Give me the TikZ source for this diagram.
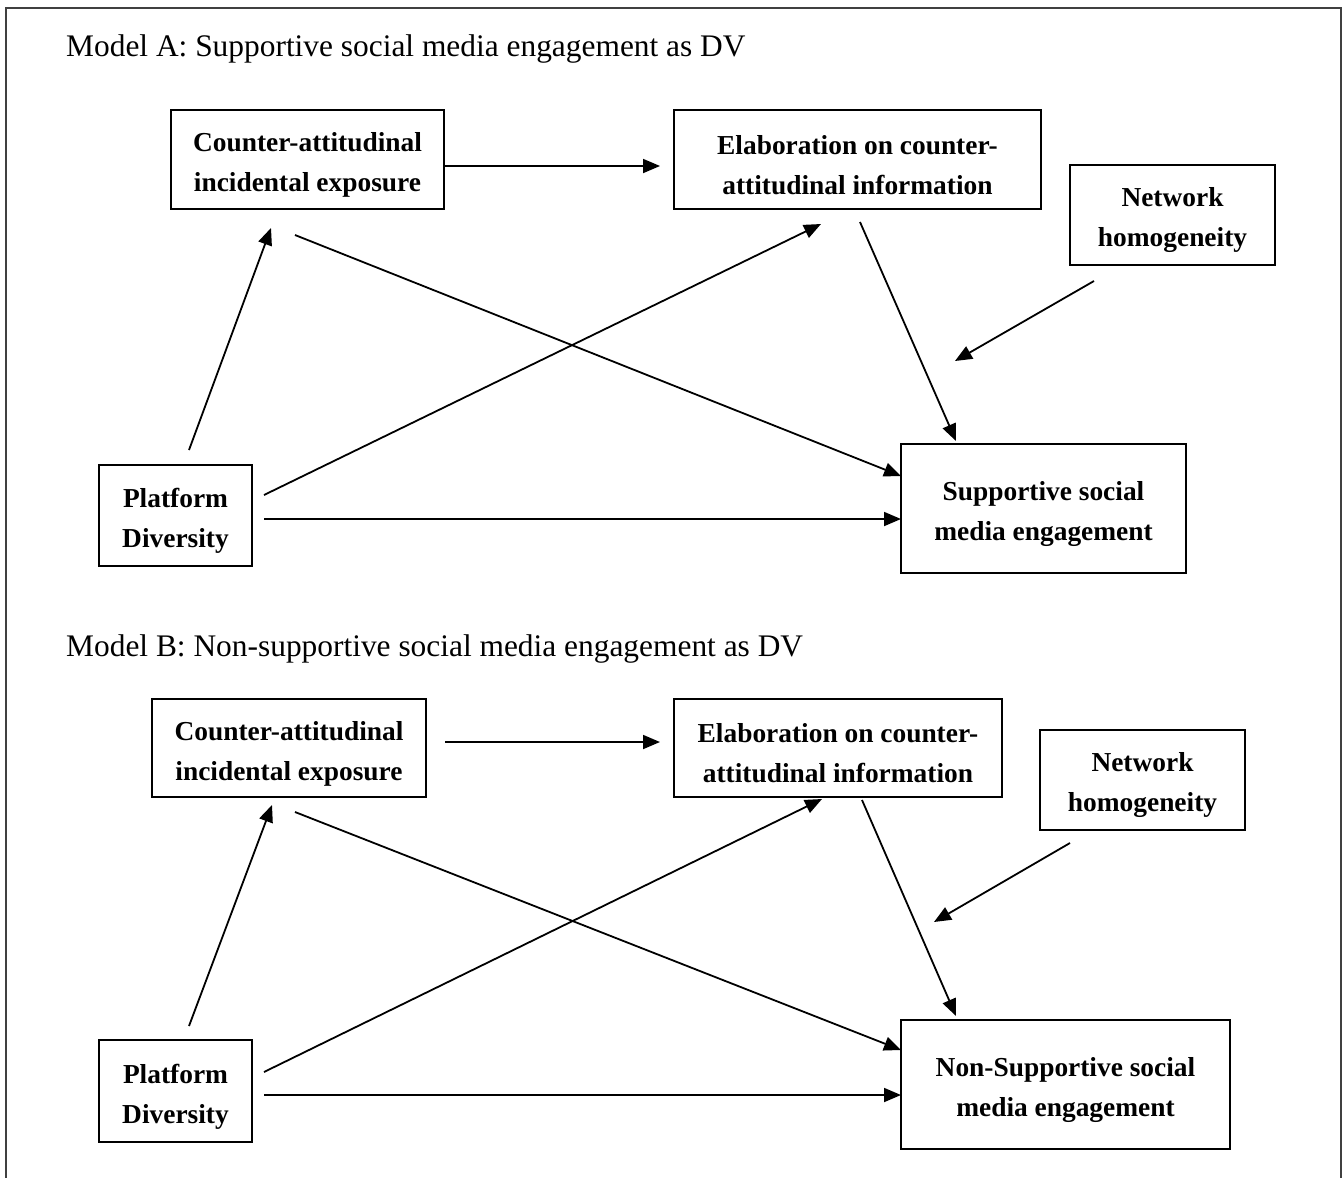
\documentclass[tikz,border=0pt]{standalone}
\usepackage{fontspec}
\setmainfont{Liberation Serif}
\usetikzlibrary{arrows.meta}
\newcommand\mytopstrut{\rule{0pt}{30pt}}
\begin{document}
\begin{tikzpicture}[x=1pt,y=-1pt,
  box/.style={draw=black,line width=2.8pt,inner sep=0pt,align=center,
    font=\bfseries\fontsize{27.4}{40}\selectfont},
  title/.style={anchor=base west,inner sep=0pt,font=\fontsize{31.4}{36}\selectfont},
  arr/.style={line width=1.8pt,-{Triangle[length=17pt,width=14pt]}},
  frame/.style={draw=black!75,line width=2pt}]
\useasboundingbox (0,0) rectangle (1344,1178);
\draw[frame] (6,1190) -- (6,8) -- (1341,8) -- (1341,1190);
% ---------- Model A ----------
\node[title] (tA) at (66,56) {Model A: Supportive social media engagement as DV};
\node[box,minimum width=273pt,minimum height=99pt] (caieA) at (307.5,159.5) {\mytopstrut Counter-attitudinal\\incidental exposure};
\node[box,minimum width=367pt,minimum height=99pt] (elabA) at (857.5,159.5) {\mytopstrut Elaboration on counter-\\attitudinal information};
\node[box,minimum width=205pt,minimum height=100pt] (netA) at (1172.5,215) {\mytopstrut Network\\homogeneity};
\node[box,minimum width=153pt,minimum height=101pt] (platA) at (175.5,515.5) {\mytopstrut Platform\\Diversity};
\node[box,minimum width=285pt,minimum height=129pt] (suppA) at (1043.5,508.5) {\mytopstrut Supportive social\\media engagement};
\coordinate (a1s) at (444,166);  \coordinate (a1e) at (660,166);
\coordinate (a2s) at (189,450);  \coordinate (a2e) at (271,228);
\coordinate (a3s) at (295,235);  \coordinate (a3e) at (901,476);
\coordinate (a4s) at (264,495);  \coordinate (a4e) at (821,224);
\coordinate (a5s) at (264,519);  \coordinate (a5e) at (901,519);
\coordinate (a6s) at (860,222);  \coordinate (a6e) at (956,441);
\coordinate (a7s) at (1094,281); \coordinate (a7e) at (955,361);
\draw[arr] (a1s) -- (a1e);
\draw[arr] (a2s) -- (a2e);
\draw[arr] (a3s) -- (a3e);
\draw[arr] (a4s) -- (a4e);
\draw[arr] (a5s) -- (a5e);
\draw[arr] (a6s) -- (a6e);
\draw[arr] (a7s) -- (a7e);
% ---------- Model B ----------
\node[title] (tB) at (66,656) {Model B: Non-supportive social media engagement as DV};
\node[box,minimum width=274pt,minimum height=98pt] (caieB) at (289,748) {\mytopstrut Counter-attitudinal\\incidental exposure};
\node[box,minimum width=328pt,minimum height=98pt] (elabB) at (838,748) {\mytopstrut Elaboration on counter-\\attitudinal information};
\node[box,minimum width=205pt,minimum height=100pt] (netB) at (1142.5,780) {\mytopstrut Network\\homogeneity};
\node[box,minimum width=153pt,minimum height=102pt] (platB) at (175.5,1091) {\mytopstrut Platform\\Diversity};
\node[box,minimum width=329pt,minimum height=129pt] (suppB) at (1065.5,1084.5) {\mytopstrut Non-Supportive social\\media engagement};
\coordinate (b1s) at (445,742);  \coordinate (b1e) at (660,742);
\coordinate (b2s) at (189,1026); \coordinate (b2e) at (272,805);
\coordinate (b3s) at (295,812);  \coordinate (b3e) at (901,1050);
\coordinate (b4s) at (264,1072); \coordinate (b4e) at (822,799);
\coordinate (b5s) at (264,1095); \coordinate (b5e) at (901,1095);
\coordinate (b6s) at (862,800);  \coordinate (b6e) at (956,1016);
\coordinate (b7s) at (1070,843); \coordinate (b7e) at (934,922);
\draw[arr] (b1s) -- (b1e);
\draw[arr] (b2s) -- (b2e);
\draw[arr] (b3s) -- (b3e);
\draw[arr] (b4s) -- (b4e);
\draw[arr] (b5s) -- (b5e);
\draw[arr] (b6s) -- (b6e);
\draw[arr] (b7s) -- (b7e);
\end{tikzpicture}
\end{document}
